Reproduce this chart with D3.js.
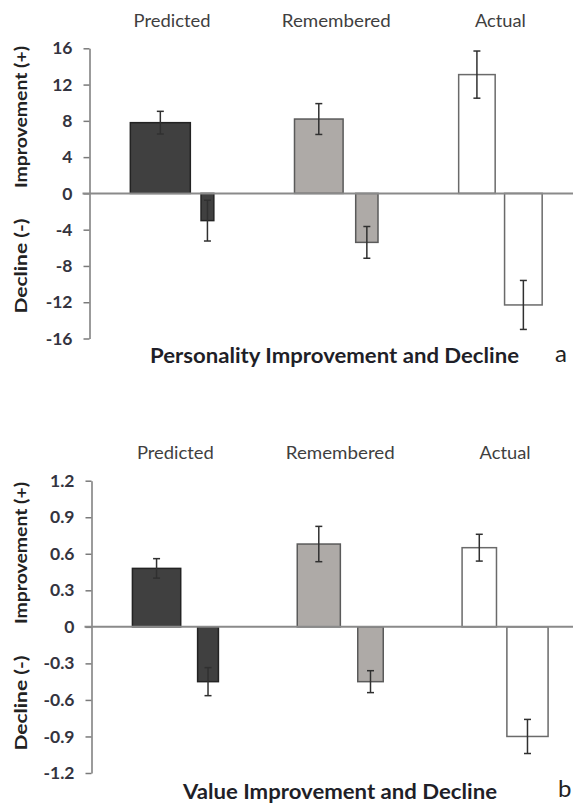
<!DOCTYPE html>
<html><head><meta charset="utf-8">
<script src="https://cdn.jsdelivr.net/npm/d3@7"></script>
<style>body{margin:0;background:#fff} svg{display:block}</style>
</head><body><svg id="c" width="573" height="804"></svg>
<script>
// ---------- data ----------
const groups = ["Predicted", "Remembered", "Actual"];
const personalityImprove    = [7.8, 8.2, 13.1];
const personalityImproveErr = [1.25, 1.7, 2.6];
const personalityDecline    = [-3.0, -5.4, -12.3];
const personalityDeclineErr = [2.25, 1.75, 2.7];
const valueImprove    = [0.48, 0.68, 0.65];
const valueImproveErr = [0.08, 0.145, 0.11];
const valueDecline    = [-0.45, -0.45, -0.90];
const valueDeclineErr = [0.115, 0.09, 0.14];
const personalityTicks = [16, 12, 8, 4, 0, -4, -8, -12, -16];
const personalityTickLabels = ["16", "12", "8", "4", "0", "-4", "-8", "-12", "-16"];
const valueTicks = [1.2, 0.9, 0.6, 0.3, 0, -0.3, -0.6, -0.9, -1.2];
const valueTickLabels = ["1.2", "0.9", "0.6", "0.3", "0", "-0.3", "-0.6", "-0.9", "-1.2"];
const yTitles = ["Improvement (+)", "Decline (-)"];
const chartTitles = ["Personality Improvement and Decline", "Value Improvement and Decline"];
const panelLetters = ["a", "b"];

// ---------- layout / style ----------
const fills   = ["#404040", "#aeaaa7", "#ffffff"];
const strokes = ["#232323", "#5a5a5a", "#6a6a6a"];
const FONT = "Lato, 'Open Sans', sans-serif";
const groupLabelLen = [77, 109, 51];
const yTitleLen = [142, 95];

const panels = [
  { improve: personalityImprove, improveErr: personalityImproveErr,
    decline: personalityDecline, declineErr: personalityDeclineErr,
    ticks: personalityTicks, tickLabels: personalityTickLabels,
    title: chartTitles[0], letter: panelLetters[0],
    axisX: 89.5, yTop: 48.3, yBottom: 338.5, bandStart: 90, bandEnd: 582.5,
    span: 83.5, posW: [60, 48.6, 36.5], negW: [12.8, 22.3, 37.6],
    labelY: 27.3, titleX: 334.5, titleY: 362.5, titleLen: 369,
    letterX: 555, letterY: 361.5,
    impTitleY: 117, decTitleY: 266 },
  { improve: valueImprove, improveErr: valueImproveErr,
    decline: valueDecline, declineErr: valueDeclineErr,
    ticks: valueTicks, tickLabels: valueTickLabels,
    title: chartTitles[1], letter: panelLetters[1],
    axisX: 91.5, yTop: 480.7, yBottom: 773, bandStart: 93, bandEnd: 587.5,
    span: 86, posW: [48.3, 43.1, 34.4], negW: [20.8, 25.5, 41.2],
    labelY: 459.3, titleX: 340, titleY: 799, titleLen: 314,
    letterX: 558, letterY: 797,
    impTitleY: 553, decTitleY: 703 }
];

const svg = d3.select("#c");
svg.append("rect").attr("width", 573).attr("height", 804).attr("fill", "#fff");

panels.forEach(p => {
  const g = svg.append("g");
  const dmax = d3.max(p.ticks), dmin = d3.min(p.ticks);
  const y = d3.scaleLinear().domain([dmin, dmax]).range([p.yBottom, p.yTop]);
  const x = d3.scaleBand().domain(groups).range([p.bandStart, p.bandEnd]).padding(0);
  const cx = d => x(d) + x.bandwidth() / 2;

  // group labels
  g.selectAll("text.grp").data(groups).join("text")
    .attr("class", "grp")
    .attr("x", d => cx(d)).attr("y", p.labelY)
    .attr("text-anchor", "middle")
    .attr("font-family", FONT).attr("font-size", 17.5)
    .attr("textLength", (d, i) => groupLabelLen[i]).attr("lengthAdjust", "spacingAndGlyphs")
    .attr("fill", "#3f3f3f")
    .text(d => d);

  // y axis
  const axis = d3.axisLeft(y).tickValues(p.ticks).tickSize(6).tickSizeOuter(0).tickPadding(11)
    .tickFormat((d, i) => p.tickLabels[i]);
  const ag = g.append("g").attr("transform", `translate(${p.axisX},0)`).call(axis);
  ag.select(".domain").attr("stroke", "#7a7a7a").attr("stroke-width", 1.5);
  ag.selectAll(".tick line").attr("stroke", "#7a7a7a").attr("stroke-width", 1.5);
  ag.selectAll(".tick text").attr("font-family", FONT).attr("font-size", 17.5)
    .attr("font-weight", "bold").attr("fill", "#343440");

  // axis titles
  const yt = [p.impTitleY, p.decTitleY];
  g.selectAll("text.yt").data(yTitles).join("text")
    .attr("class", "yt")
    .attr("transform", (d, i) => `translate(27,${yt[i]}) rotate(-90)`)
    .attr("text-anchor", "middle")
    .attr("font-family", FONT).attr("font-size", 17).attr("font-weight", "bold")
    .attr("textLength", (d, i) => yTitleLen[i]).attr("lengthAdjust", "spacingAndGlyphs")
    .attr("fill", "#222")
    .text(d => d);

  const y0 = y(0);
  // improvement bars
  g.selectAll("rect.pos").data(groups).join("rect")
    .attr("class", "pos")
    .attr("x", (d, i) => cx(d) - p.span / 2)
    .attr("width", (d, i) => p.posW[i])
    .attr("y", (d, i) => y(p.improve[i]))
    .attr("height", (d, i) => y0 - y(p.improve[i]))
    .attr("fill", (d, i) => fills[i]).attr("stroke", (d, i) => strokes[i]).attr("stroke-width", 1.5);
  // decline bars
  g.selectAll("rect.neg").data(groups).join("rect")
    .attr("class", "neg")
    .attr("x", (d, i) => cx(d) + p.span / 2 - p.negW[i])
    .attr("width", (d, i) => p.negW[i])
    .attr("y", y0)
    .attr("height", (d, i) => y(p.decline[i]) - y0)
    .attr("fill", (d, i) => fills[i]).attr("stroke", (d, i) => strokes[i]).attr("stroke-width", 1.5);

  // error bars
  const errs = [];
  groups.forEach((d, i) => {
    errs.push({ x: cx(d) - p.span / 2 + p.posW[i] / 2, v: p.improve[i], e: p.improveErr[i] });
    errs.push({ x: cx(d) + p.span / 2 - p.negW[i] / 2, v: p.decline[i], e: p.declineErr[i] });
  });
  const eg = g.selectAll("g.err").data(errs).join("g").attr("class", "err")
    .attr("stroke", "#303030").attr("stroke-width", 1.5);
  eg.append("line").attr("x1", d => d.x).attr("x2", d => d.x)
    .attr("y1", d => y(d.v + d.e)).attr("y2", d => y(d.v - d.e));
  eg.append("line").attr("x1", d => d.x - 3.5).attr("x2", d => d.x + 3.5)
    .attr("y1", d => y(d.v + d.e)).attr("y2", d => y(d.v + d.e));
  eg.append("line").attr("x1", d => d.x - 3.5).attr("x2", d => d.x + 3.5)
    .attr("y1", d => y(d.v - d.e)).attr("y2", d => y(d.v - d.e));

  // zero line (category axis)
  g.append("line").attr("x1", p.axisX - 7).attr("x2", 573)
    .attr("y1", y0).attr("y2", y0)
    .attr("stroke", "#8a8a8a").attr("stroke-width", 2);

  // title and panel letter
  g.append("text").attr("x", p.titleX).attr("y", p.titleY)
    .attr("text-anchor", "middle")
    .attr("font-family", FONT).attr("font-size", 20).attr("font-weight", "bold")
    .attr("textLength", p.titleLen).attr("lengthAdjust", "spacingAndGlyphs")
    .attr("fill", "#1f1f28").text(p.title);
  g.append("text").attr("x", p.letterX).attr("y", p.letterY)
    .attr("font-family", FONT).attr("font-size", 24)
    .attr("fill", "#222").text(p.letter);
});
</script>
</body></html>
